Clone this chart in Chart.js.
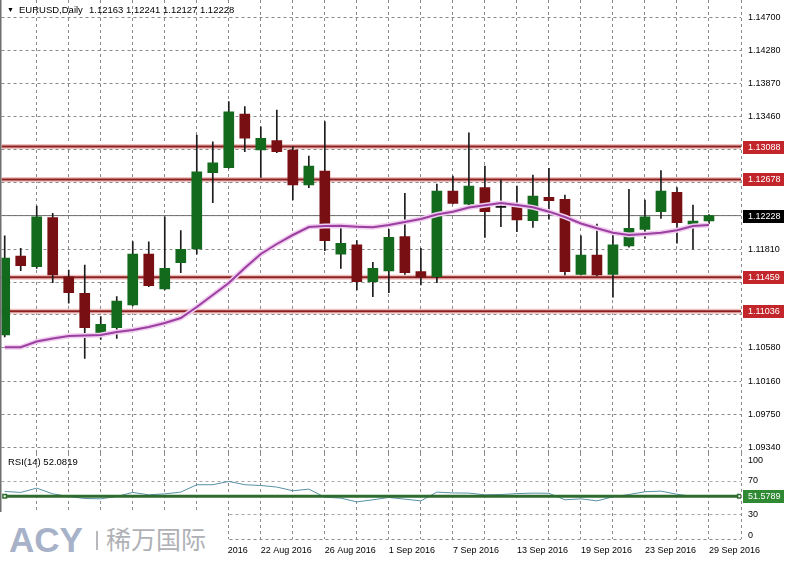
<!DOCTYPE html>
<html>
<head>
<meta charset="utf-8">
<title>EURUSD Daily</title>
<script src="https://cdn.jsdelivr.net/npm/chart.js@4.4.1/dist/chart.umd.min.js"></script>
<style>
  html, body { margin: 0; padding: 0; background: #fff; }
  #chartBox { position: relative; width: 789px; height: 564px; overflow: hidden; background: #fff;
    font-family: "Liberation Sans", Arial, sans-serif; color: #000; }
  canvas { position: absolute; left: 0; }
  #priceCanvas { top: 0; }
  #rsiCanvas { top: 453px; }
  .caption { position: absolute; font-size: 9.5px; line-height: 11px; white-space: pre; }
  #arrow { left: 7px; top: 4px; font-size: 7px; }
  #symbol { left: 19px; top: 4px; }
  #ohlc { left: 89px; top: 4px; }
  #rsiCaption { left: 8px; top: 456px; }
  #logo { position: absolute; left: 0; top: 512px; width: 228px; height: 52px; background: #fff; }
  #logo .acy { position: absolute; left: 9px; top: 11px; font: bold 35px/34px "Liberation Sans", Arial, sans-serif; color: #a7b1c8; }
  #logo .sep { position: absolute; left: 96px; top: 19px; width: 2px; height: 19px; background: #b8b9bd; }
  #logo .cn { position: absolute; left: 106px; top: 13px; font: 25px/26px "Noto Sans CJK SC", sans-serif; color: #afb1b6; }
</style>
</head>
<body>
<div id="chartBox">
  <canvas id="priceCanvas" width="789" height="453"></canvas>
  <canvas id="rsiCanvas" width="789" height="111"></canvas>
  <span class="caption" id="arrow">▼</span>
  <span class="caption" id="symbol">EURUSD,Daily</span>
  <span class="caption" id="ohlc">1.12163 1.12241 1.12127 1.12228</span>
  <span class="caption" id="rsiCaption">RSI(14) 52.0819</span>
  <div id="logo"><span class="acy">ACY</span><span class="sep"></span><span class="cn">稀万国际</span></div>
</div>
<script>
// daily bars, oldest first (last bar = 29 Sep 2016)
const CANDLE_OPEN  = [1.10739, 1.11724, 1.11591, 1.12202, 1.11466, 1.11259, 1.10752, 1.10831, 1.11114, 1.11749,
                      1.11313, 1.11641, 1.11812, 1.12763, 1.12825, 1.13495, 1.13046, 1.13162, 1.13046, 1.12609,
                      1.12784, 1.11746, 1.11862, 1.11404, 1.11537, 1.11965, 1.11529, 1.11466, 1.12535, 1.12369,
                      1.12576, 1.12331, 1.12339, 1.12164, 1.12456, 1.12431, 1.11496, 1.11737, 1.11496, 1.11849,
                      1.12057, 1.12277, 1.12518, 1.12120, 1.12163];
const CANDLE_HIGH  = [1.11977, 1.11820, 1.12348, 1.12257, 1.11550, 1.11612, 1.10968, 1.11217, 1.11903, 1.11900,
                      1.12214, 1.12040, 1.13233, 1.13149, 1.13648, 1.13586, 1.13336, 1.13544, 1.13087, 1.12971,
                      1.13399, 1.12070, 1.11915, 1.11646, 1.12057, 1.12506, 1.11820, 1.12622, 1.12722, 1.13261,
                      1.12846, 1.12672, 1.12597, 1.12734, 1.12818, 1.12485, 1.11977, 1.12123, 1.11999, 1.12556,
                      1.12422, 1.12788, 1.12576, 1.12360, 1.12241];
const CANDLE_LOW   = [1.10715, 1.11541, 1.11571, 1.11392, 1.11135, 1.10449, 1.10683, 1.10698, 1.11101, 1.11342,
                      1.11300, 1.11516, 1.11746, 1.12389, 1.12818, 1.13025, 1.12705, 1.13012, 1.12422, 1.12576,
                      1.11790, 1.11571, 1.11300, 1.11217, 1.11267, 1.11496, 1.11363, 1.11392, 1.12373, 1.12360,
                      1.11957, 1.12090, 1.12027, 1.12082, 1.12182, 1.11488, 1.11488, 1.11475, 1.11210, 1.11833,
                      1.11945, 1.12194, 1.11883, 1.11808, 1.12127];
const CANDLE_CLOSE = [1.11699, 1.11603, 1.12214, 1.11488, 1.11267, 1.10831, 1.10873, 1.11163, 1.11749, 1.11354,
                      1.11571, 1.11808, 1.12775, 1.12887, 1.13523, 1.13192, 1.13192, 1.13025, 1.12609, 1.12846,
                      1.11915, 1.11883, 1.11404, 1.11571, 1.11957, 1.11516, 1.11459, 1.12535, 1.12381, 1.12597,
                      1.12277, 1.12331, 1.12173, 1.12472, 1.12414, 1.11529, 1.11737, 1.11488, 1.11862, 1.12070,
                      1.12214, 1.12535, 1.12139, 1.12161, 1.12228];
const MA_VALUES    = [1.10586, 1.10586, 1.10659, 1.10696, 1.10727, 1.10733, 1.10740, 1.10777, 1.10802, 1.10839,
                      1.10889, 1.10951, 1.11089, 1.11238, 1.11388, 1.11575, 1.11749, 1.11874, 1.11986, 1.12086,
                      1.12098, 1.12102, 1.12090, 1.12082, 1.12111, 1.12148, 1.12186, 1.12242, 1.12277, 1.12329,
                      1.12356, 1.12385, 1.12360, 1.12331, 1.12277, 1.12211, 1.12130, 1.12070, 1.12015, 1.11986,
                      1.11999, 1.12015, 1.12045, 1.12098, 1.12111];
const RSI_VALUES   = [57.4, 56.2, 61.4, 54.5, 51.3, 48.9, 48.5, 51.3, 56.2, 53.3,
                      54.5, 56.6, 65.5, 65.5, 69.5, 65.5, 64.6, 62.7, 58.2, 60.2,
                      50.5, 49.3, 44.8, 47.3, 50.1, 48.1, 46.0, 56.6, 55.6, 55.4,
                      53.3, 53.7, 54.8, 55.4, 55.2, 47.3, 48.5, 46.0, 50.9, 53.7,
                      57.0, 57.8, 54.0, 51.5, 52.08];

const PRICE_TICKS = [1.14700, 1.14280, 1.13870, 1.13460, 1.13050, 1.12640, 1.12230,
                     1.11810, 1.11400, 1.10990, 1.10580, 1.10160, 1.09750, 1.09340];
const LEVEL_LINES = [1.13088, 1.12678, 1.11459, 1.11036];
const LAST_PRICE = 1.12228;
const RSI_LINE_LEVEL = 51.5789;
const RSI_TICKS = [100, 70, 30, 0];
const DATE_TICK_BARS = [12, 16, 20, 24, 28, 32, 36, 40, 44];
const DATE_LABELS = ['16 Aug 2016', '22 Aug 2016', '26 Aug 2016', '1 Sep 2016', '7 Sep 2016',
                     '13 Sep 2016', '19 Sep 2016', '23 Sep 2016', '29 Sep 2016'];

// view window
const X_MIN = -0.2, X_MAX = 46;
const PRICE_MIN = 1.092684, PRICE_MAX = 1.149157;
const RSI_MIN = 0, RSI_MAX = 103.8;
const RSI_LABEL_INSET = 4.7;   // MT4 pulls the 0/100 labels inside the pane
const GRID_BARS = [];
for (let b = 2; b <= X_MAX; b += 2) GRID_BARS.push(b);

const UP = '#136a1d', DOWN = '#780f12', DOJI = '#111';
const GRID = '#8a8a8a';

Chart.defaults.font.family = '"Liberation Sans", Arial, sans-serif';
Chart.defaults.font.size = 9;
Chart.defaults.color = '#000';

const bars = CANDLE_OPEN.map((_, i) => i);
const bodyColors = bars.map(i =>
    CANDLE_CLOSE[i] > CANDLE_OPEN[i] ? UP : (CANDLE_CLOSE[i] < CANDLE_OPEN[i] ? DOWN : DOJI));

const flatLine = (value, color, width, order) => ({
    type: 'line',
    data: [{x: X_MIN, y: value}, {x: X_MAX, y: value}],
    borderColor: color,
    borderWidth: width,
    pointRadius: 0,
    order: order
});

// scales otherwise reserve room for half a label above/below the pane
function noScalePadding(s) {
    s.paddingTop = 0;
    s.paddingBottom = 0;
    s.paddingLeft = 0;
    s.paddingRight = 0;
}

const leftEdge = {
    id: 'leftEdge',
    afterDraw(chart) {
        const {ctx, chartArea} = chart;
        ctx.save();
        ctx.fillStyle = '#6f6f6f';
        ctx.fillRect(0, chartArea.top, 1.5, chartArea.bottom - chartArea.top);
        ctx.restore();
    }
};

function drawTag(ctx, y, text, bg) {
    y = Math.round(y);
    ctx.fillStyle = bg;
    ctx.fillRect(743, y - 6, 41, 13);
    ctx.fillStyle = '#fff';
    ctx.textAlign = 'left';
    ctx.textBaseline = 'middle';
    ctx.fillText(text, 748, y + 0.5);
}

const priceTags = {
    id: 'priceTags',
    afterDraw(chart) {
        const ctx = chart.ctx, y = chart.scales.y;
        ctx.save();
        ctx.font = '9px "Liberation Sans", Arial, sans-serif';
        LEVEL_LINES.forEach(v => drawTag(ctx, y.getPixelForValue(v), v.toFixed(5), '#c2262b'));
        drawTag(ctx, y.getPixelForValue(LAST_PRICE), LAST_PRICE.toFixed(5), '#000');
        ctx.restore();
    }
};

const rsiTag = {
    id: 'rsiTag',
    afterDraw(chart) {
        const ctx = chart.ctx;
        ctx.save();
        ctx.font = '9px "Liberation Sans", Arial, sans-serif';
        drawTag(ctx, chart.scales.y.getPixelForValue(RSI_LINE_LEVEL), RSI_LINE_LEVEL.toFixed(4), '#2f8a33');
        ctx.restore();
    }
};

const xGrid = {
    type: 'linear',
    min: X_MIN,
    max: X_MAX,
    offset: false,
    afterBuildTicks: s => { s.ticks = GRID_BARS.map(v => ({value: v})); },
    grid: { color: GRID, drawTicks: false, offset: false },
    border: { display: false, dash: [3, 3] }
};

// price pane
new Chart(document.getElementById('priceCanvas'), {
    type: 'bar',
    data: {
        datasets: [
            { type: 'line', data: bars.map(i => ({x: i, y: MA_VALUES[i]})),
              borderColor: '#9b3fa0', borderWidth: 2, pointRadius: 0, order: 0 },
            { type: 'line', data: bars.map(i => ({x: i, y: MA_VALUES[i]})),
              borderColor: '#f1cdef', borderWidth: 5, pointRadius: 0, order: 1 },
            { type: 'bar', data: bars.map(i => ({x: i, y: [CANDLE_OPEN[i], CANDLE_CLOSE[i]]})),
              backgroundColor: bodyColors, barThickness: 10, minBarLength: 1, grouped: false, order: 2 },
            { type: 'bar', data: bars.map(i => ({x: i, y: [CANDLE_LOW[i], CANDLE_HIGH[i]]})),
              backgroundColor: '#1c1c1c', barThickness: 1, grouped: false, order: 3 },
            flatLine(LAST_PRICE, '#707070', 1, 4),
            ...LEVEL_LINES.map(v => flatLine(v, '#8c2020', 2, 5)),
            ...LEVEL_LINES.map(v => flatLine(v, '#f0c3c3', 5, 6))
        ]
    },
    options: {
        responsive: false,
        animation: false,
        events: [],
        layout: { padding: { left: 1.5, right: 0, top: 0, bottom: 0 }, autoPadding: false },
        plugins: { legend: { display: false }, tooltip: { enabled: false } },
        scales: {
            x: Object.assign({}, xGrid, {
                ticks: { display: false },
                afterFit: s => { s.height = 0; noScalePadding(s); }
            }),
            y: {
                position: 'right',
                min: PRICE_MIN,
                max: PRICE_MAX,
                afterBuildTicks: s => { s.ticks = PRICE_TICKS.map(v => ({value: v})); },
                afterFit: s => { s.width = 48; noScalePadding(s); },
                ticks: { padding: 7, callback: v => v.toFixed(5) },
                grid: { color: GRID, drawTicks: false },
                border: { display: false, dash: [3, 3] }
            }
        }
    },
    plugins: [leftEdge, priceTags]
});

// RSI pane
new Chart(document.getElementById('rsiCanvas'), {
    type: 'line',
    data: {
        datasets: [
            { data: [{x: 0, y: RSI_LINE_LEVEL}, {x: 45.9, y: RSI_LINE_LEVEL}],
              borderColor: '#2e6b2e', borderWidth: 3,
              pointStyle: 'rect', pointRadius: 2.5, pointBorderWidth: 1.5,
              pointBackgroundColor: '#fff', pointBorderColor: '#2e6b2e', order: 0 },
            { data: bars.map(i => ({x: i, y: RSI_VALUES[i]})),
              borderColor: '#5790a4', borderWidth: 1, pointRadius: 0, order: 1 }
        ]
    },
    options: {
        responsive: false,
        animation: false,
        events: [],
        layout: { padding: { left: 1.5, right: 0, top: 0, bottom: 0 }, autoPadding: false },
        plugins: { legend: { display: false }, tooltip: { enabled: false } },
        scales: {
            x: Object.assign({}, xGrid, {
                afterFit: s => { s.height = 25; noScalePadding(s); },
                ticks: {
                    autoSkip: false, maxRotation: 0, align: 'start', padding: 6,
                    callback: v => {
                        const k = DATE_TICK_BARS.indexOf(v);
                        return k < 0 ? '' : DATE_LABELS[k];
                    }
                }
            }),
            y: {
                position: 'right',
                min: RSI_MIN,
                max: RSI_MAX,
                afterBuildTicks: s => {
                    s.ticks = [{value: 0}];
                    RSI_TICKS.forEach(v => s.ticks.push({
                        value: v === 100 ? 100 - RSI_LABEL_INSET : (v === 0 ? RSI_LABEL_INSET : v),
                        text: String(v)
                    }));
                },
                afterFit: s => { s.width = 48; noScalePadding(s); },
                ticks: { padding: 7, callback: (v, i, ticks) => ticks[i].text || '' },
                grid: {
                    drawTicks: false,
                    color: c => {
                        const v = c.tick ? c.tick.value : null;
                        if (v === 0) return GRID;
                        if (v === 30 || v === 70) return '#a6a6a6';
                        return 'rgba(0,0,0,0)';
                    }
                },
                border: { display: false, dash: [3, 3] }
            }
        }
    },
    plugins: [leftEdge, rsiTag]
});
</script>
</body>
</html>
